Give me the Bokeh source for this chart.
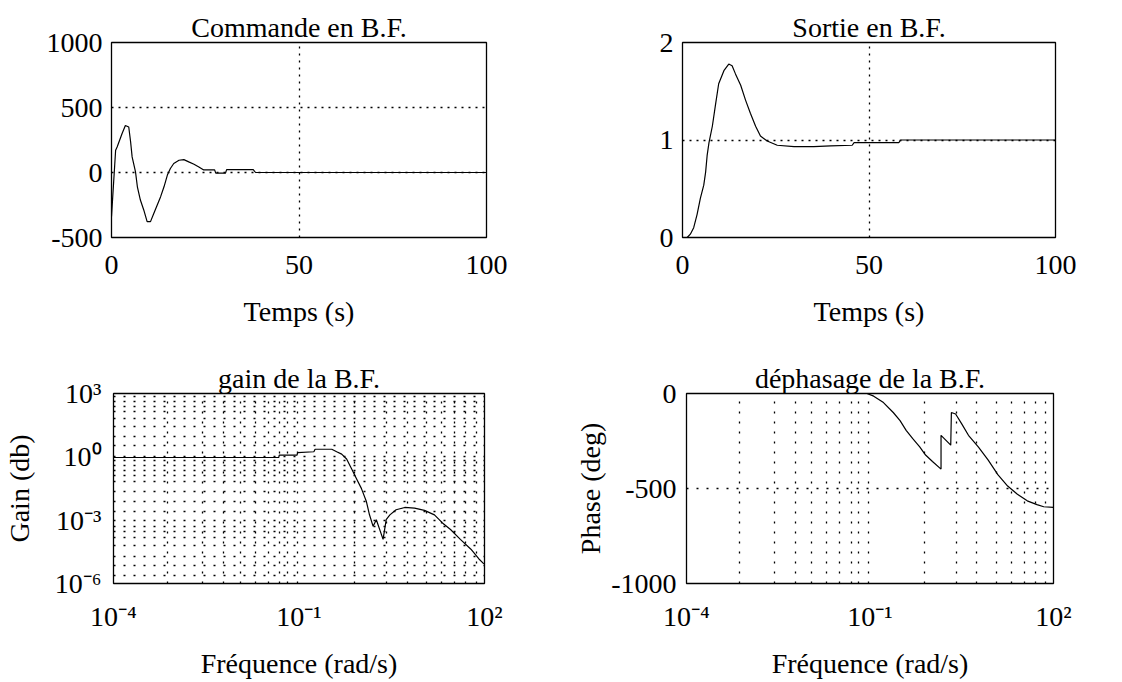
from bokeh.plotting import figure
from bokeh.layouts import column, row
from bokeh.models import FixedTicker, CustomJSTickFormatter
from bokeh.embed import file_html
from bokeh.resources import INLINE

FONT = "Liberation Serif"
FS = "28px"

# ---------------- data ----------------
# Commande en B.F.
cmd_t = [0, 1.1, 1.5, 2.8, 3.7, 4.6, 5.1, 5.5, 6.4, 6.9, 7.7, 8.6, 9.5, 10.4, 11.3, 12.2,
         13.1, 14.0, 14.9, 15.7, 16.6, 18.0, 19.3, 20.6, 22.0, 23.3, 24.6, 27.5, 27.8, 30.4,
         30.7, 37.8, 38.4, 60, 100]
cmd_u = [-339, 171, 196, 298, 362, 350, 235, 120, 5, -110, -212, -288, -378, -378, -314, -250,
         -186, -110, -20, 31, 69, 94, 99, 82, 64, 43, 20, 20, -5, -5,
         22, 22, 0, 0, 0]

# Sortie en B.F.
out_t = [0, 1.25, 2.1, 3.0, 3.9, 4.8, 5.7, 6.2, 6.6, 7.1, 8.0, 8.9, 9.7, 11.1, 12.4, 13.3,
         14.2, 15.6, 16.9, 18.2, 19.6, 20.9, 22.7, 25.4, 29.9, 35.2, 39.7, 45.5, 46.0, 58.0,
         58.5, 100]
out_y = [0, 0, 0.034, 0.101, 0.235, 0.403, 0.537, 0.671, 0.839, 0.973, 1.141, 1.376, 1.577,
         1.711, 1.779, 1.762, 1.678, 1.561, 1.409, 1.275, 1.141, 1.040, 0.990, 0.946, 0.933,
         0.933, 0.940, 0.946, 0.973, 0.973, 1.0, 1.0]

# gain de la B.F.
gain_w = [1e-4, 0.047, 0.048, 0.093, 0.095, 0.174, 0.182, 0.339, 0.407, 0.49, 0.589, 0.708,
          0.851, 1.02, 1.23, 1.38, 1.58, 1.78, 2.29, 2.57, 2.95, 3.72, 5.13, 7.41, 10.7, 15.5,
          20.9, 28.2, 40.7, 60.3, 81.3, 97.7]
gain_g = [0.93, 0.93, 1.2, 1.2, 1.58, 1.74, 2.29, 2.29, 1.74, 1.35, 0.79, 0.27, 0.091, 0.032,
          0.0076, 0.0018, 5.1e-4, 1.05e-3, 1.23e-4, 1.05e-3, 1.78e-3, 3.1e-3, 4.0e-3, 3.7e-3,
          2.9e-3, 1.78e-3, 7.4e-4, 3.6e-4, 1.23e-4, 4.2e-5, 1.45e-5, 8.5e-6]

# déphasage de la B.F.
ph_w = [1e-4, 0.089, 0.115, 0.166, 0.24, 0.31, 0.39, 0.50, 0.65, 0.81, 1.05, 1.45, 1.45, 2.09,
        2.14, 2.51, 3.16, 4.07, 5.89, 8.51, 12.3, 17.8, 25.7, 37.2, 53.7, 69.2, 100]
ph_d = [0, 0, -14, -48, -100, -143, -194, -238, -281, -324, -358, -398, -220, -272,
        -100, -108, -160, -220, -281, -349, -427, -487, -530, -565, -585, -596, -599]

# ticks / labels
t_ticks = [0, 50, 100]
t_labels = ["0", "50", "100"]
cmd_ticks = [-500, 0, 500, 1000]
cmd_labels = ["-500", "0", "500", "1000"]
out_ticks = [0, 1, 2]
out_labels = ["0", "1", "2"]
w_ticks = [1e-4, 1e-1, 1e2]
w_labels = ["10\u207b\u2074", "10\u207b\u00b9", "10\u00b2"]
g_ticks = [1e-6, 1e-3, 1e0, 1e3]
g_labels = ["10\u207b\u2076", "10\u207b\u00b3", "10\u2070", "10\u00b3"]
p_ticks = [-1000, -500, 0]
p_labels = ["-1000", "-500", "0"]

# grid positions
cmd_hgrid = [0, 500]
out_hgrid = [1]
t_vgrid = [50]
w_vgrid = [7.4e-4, 2.7e-3, 6.0e-3, 1.12e-2, 1.95e-2, 3.16e-2, 4.9e-2, 6.6e-2, 0.095,
           0.79, 2.6, 5.6, 11.5, 20.4, 33, 50, 74]
g_hgrid = [692, 407, 240, 141, 69, 28, 9.5, 3.3, 1.0,
           0.66, 0.38, 0.22, 0.13, 0.065, 0.022, 0.0076, 0.0026, 1e-3,
           5.1e-4, 3.0e-4, 1.5e-4, 6.0e-5, 2.0e-5, 7.1e-6, 2.4e-6]
p_hgrid = [-500]


def fmt(tv, tl):
    return CustomJSTickFormatter(args=dict(tv=tv, tl=tl), code="""
        let best = 0, bd = Infinity;
        for (let i = 0; i < tv.length; i++) {
            const d = Math.abs(tick - tv[i]) / Math.max(Math.abs(tv[i]), 1e-12);
            if (d < bd) { bd = d; best = i; }
        }
        return tl[best];
    """)


def make(title, xr, yr, w, h, borders, xlog=False, ylog=False):
    p = figure(width=w, height=h, x_range=xr, y_range=yr,
               x_axis_type="log" if xlog else "linear",
               y_axis_type="log" if ylog else "linear",
               output_backend="svg", toolbar_location=None,
               min_border_left=borders[0], min_border_right=borders[1],
               min_border_top=borders[2], min_border_bottom=borders[3])
    p.title.text = title
    p.title.align = "center"
    p.title.text_font = FONT
    p.title.text_font_size = FS
    p.title.text_font_style = "normal"
    p.title.text_color = "black"
    p.title.standoff = 0
    p.outline_line_color = "black"
    p.outline_line_width = 1.3
    p.background_fill_color = "white"
    p.border_fill_color = "white"
    for ax in (p.xaxis[0], p.yaxis[0]):
        ax.axis_line_color = None
        ax.major_tick_line_color = None
        ax.minor_tick_line_color = None
        ax.major_label_text_font = FONT
        ax.major_label_text_font_size = FS
        ax.major_label_text_color = "black"
        ax.axis_label_text_font = FONT
        ax.axis_label_text_font_size = FS
        ax.axis_label_text_font_style = "normal"
        ax.axis_label_text_color = "black"
        ax.major_tick_out = 0
        ax.major_tick_in = 0
    for g in (p.xgrid[0], p.ygrid[0]):
        g.grid_line_color = "black"
        g.grid_line_width = 1.3
    return p


# Top-left
p1 = make("Commande en B.F.", (0, 100), (-500, 1000), 572, 340, (111, 86, 42, 102))
p1.xaxis.ticker = FixedTicker(ticks=t_ticks)
p1.xaxis.formatter = fmt(t_ticks, t_labels)
p1.yaxis.ticker = FixedTicker(ticks=cmd_ticks)
p1.yaxis.formatter = fmt(cmd_ticks, cmd_labels)
p1.xgrid.ticker = FixedTicker(ticks=t_vgrid)
p1.ygrid.ticker = FixedTicker(ticks=cmd_hgrid)
p1.xgrid.grid_line_dash = "2 5"
p1.ygrid.grid_line_dash = "2 5"
p1.xaxis.axis_label = "Temps (s)"
p1.xaxis.major_label_standoff = 18
p1.xaxis.axis_label_standoff = 19
p1.yaxis.major_label_standoff = 9
p1.line(cmd_t, cmd_u, line_color="black", line_width=1.2)

# Top-right
p2 = make("Sortie en B.F.", (0, 100), (0, 2), 548, 340, (110, 65, 41, 103))
p2.xaxis.ticker = FixedTicker(ticks=t_ticks)
p2.xaxis.formatter = fmt(t_ticks, t_labels)
p2.yaxis.ticker = FixedTicker(ticks=out_ticks)
p2.yaxis.formatter = fmt(out_ticks, out_labels)
p2.xgrid.ticker = FixedTicker(ticks=t_vgrid)
p2.ygrid.ticker = FixedTicker(ticks=out_hgrid)
p2.xgrid.grid_line_dash = "2 5"
p2.ygrid.grid_line_dash = "2 5"
p2.xaxis.axis_label = "Temps (s)"
p2.xaxis.major_label_standoff = 18
p2.xaxis.axis_label_standoff = 19
p2.yaxis.major_label_standoff = 9
p2.line(out_t, out_y, line_color="black", line_width=1.2)

# Bottom-left
p3 = make("gain de la B.F.", (1e-4, 1e2), (1e-6, 1e3), 572, 341, (110, 88, 53, 94),
          xlog=True, ylog=True)
p3.xaxis.ticker = FixedTicker(ticks=w_ticks)
p3.xaxis.formatter = fmt(w_ticks, w_labels)
p3.yaxis.ticker = FixedTicker(ticks=g_ticks)
p3.yaxis.formatter = fmt(g_ticks, g_labels)
p3.xgrid.ticker = FixedTicker(ticks=w_vgrid)
p3.ygrid.ticker = FixedTicker(ticks=g_hgrid)
p3.xgrid.grid_line_dash = "2 8"
p3.ygrid.grid_line_dash = "2 8"
p3.xaxis.axis_label = "Fréquence (rad/s)"
p3.yaxis.axis_label = "Gain (db)"
p3.xaxis.major_label_standoff = 17
p3.xaxis.axis_label_standoff = 13
p3.yaxis.major_label_standoff = 12
p3.yaxis.axis_label_standoff = 17
p3.line(gain_w, gain_g, line_color="black", line_width=1.2)

# Bottom-right
p4 = make("déphasage de la B.F.", (1e-4, 1e2), (-1000, 0), 548, 341, (107, 67, 52, 95),
          xlog=True)
p4.xaxis.ticker = FixedTicker(ticks=w_ticks)
p4.xaxis.formatter = fmt(w_ticks, w_labels)
p4.yaxis.ticker = FixedTicker(ticks=p_ticks)
p4.yaxis.formatter = fmt(p_ticks, p_labels)
p4.xgrid.ticker = FixedTicker(ticks=w_vgrid)
p4.ygrid.ticker = FixedTicker(ticks=p_hgrid)
p4.xgrid.grid_line_dash = "2 8"
p4.ygrid.grid_line_dash = "2 8"
p4.xaxis.axis_label = "Fréquence (rad/s)"
p4.yaxis.axis_label = "Phase (deg)"
p4.xaxis.major_label_standoff = 17
p4.xaxis.axis_label_standoff = 13
p4.yaxis.major_label_standoff = 10
p4.yaxis.axis_label_standoff = 2
p4.line(ph_w, ph_d, line_color="black", line_width=1.2)

layout = column(row(p1, p2), row(p3, p4))
open("out.html", "w").write(file_html(layout, INLINE))
